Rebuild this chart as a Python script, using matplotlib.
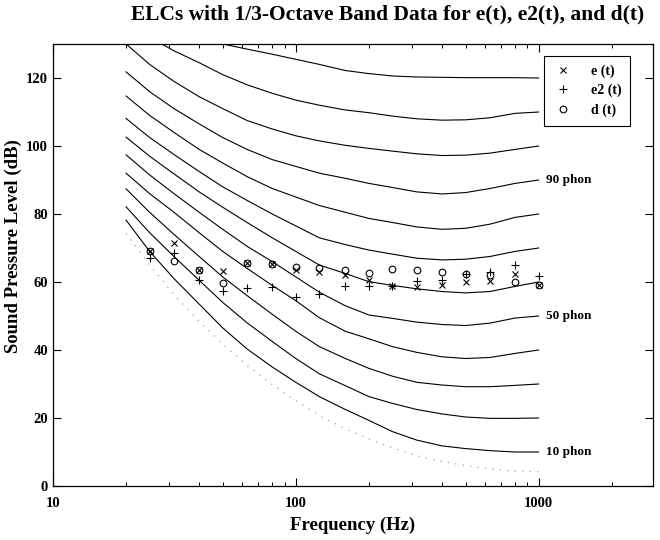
import matplotlib
matplotlib.use('Agg')
import matplotlib.pyplot as plt

# ============================================================
# Data
# ============================================================
freqs = [20, 25, 31.5, 40, 50, 63, 80, 100, 125, 160, 200, 250, 315, 400, 500, 630, 800, 1000]

# equal loudness contours, dB SPL at each 1/3-octave frequency
phon_10 = [78.2, 69.0, 61.0, 53.5, 46.5, 40.3, 35.0, 30.5, 26.3, 22.5, 19.3, 16.0, 13.5, 11.8, 11.0, 10.4, 10.0, 10.0]
phon_20 = [82.1, 74.5, 67.5, 60.5, 54.0, 48.0, 42.5, 37.5, 33.0, 29.5, 26.3, 24.3, 22.5, 21.2, 20.3, 19.9, 19.9, 20.0]
phon_30 = [87.4, 80.5, 74.0, 67.5, 61.5, 56.0, 50.5, 45.5, 41.0, 37.5, 34.6, 32.3, 30.5, 29.7, 29.2, 29.2, 29.6, 30.0]
phon_40 = [92.0, 86.0, 80.5, 74.5, 69.0, 64.0, 59.0, 54.5, 49.5, 45.5, 43.3, 41.0, 39.3, 38.0, 37.5, 37.8, 39.0, 40.0]
phon_50 = [97.4, 91.5, 86.0, 80.5, 75.5, 70.5, 66.0, 61.5, 57.0, 53.0, 50.3, 49.3, 48.2, 47.5, 47.2, 47.9, 49.4, 50.0]
phon_60 = [102.6, 97.0, 91.8, 86.5, 82.0, 77.5, 73.0, 69.0, 65.0, 62.5, 60.1, 59.0, 58.0, 57.2, 56.8, 57.2, 58.7, 60.0]
phon_70 = [108.1, 102.5, 97.5, 92.5, 88.0, 84.0, 80.0, 76.5, 73.0, 71.0, 69.4, 68.2, 67.0, 66.5, 66.7, 67.5, 69.0, 70.0]
phon_80 = [114.7, 109.0, 104.0, 99.0, 95.0, 91.0, 87.5, 85.0, 82.5, 80.5, 78.7, 77.5, 76.2, 75.5, 75.8, 77.0, 79.0, 80.0]
phon_90 = [121.8, 116.0, 111.0, 106.5, 102.5, 99.0, 96.0, 94.0, 92.0, 90.5, 89.0, 87.8, 86.5, 85.9, 86.3, 87.5, 89.0, 90.0]
phon_100 = [130.0, 124.0, 119.0, 114.5, 111.0, 107.5, 105.0, 103.0, 101.5, 100.2, 99.3, 98.5, 97.7, 97.2, 97.3, 97.9, 99.0, 100.0]
phon_110 = [136.0, 132.0, 128.0, 124.5, 121.0, 118.0, 115.5, 113.5, 112.0, 110.6, 109.8, 108.8, 108.0, 107.6, 107.7, 108.3, 109.6, 110.0]
phon_120 = [145.0, 141.0, 137.0, 133.0, 130.0, 128.5, 127.0, 125.5, 124.0, 122.2, 121.3, 120.6, 120.3, 120.2, 120.1, 120.1, 120.1, 120.0]

# hearing threshold (dotted)
threshold = [74.3, 65.0, 56.3, 48.4, 41.7, 35.5, 29.8, 25.1, 20.7, 16.8, 13.8, 11.2, 8.9, 7.2, 6.0, 5.0, 4.4, 4.2]

# 1/3-octave band data
band_freqs = [25, 31.5, 40, 50, 63, 80, 100, 125, 160, 200, 250, 315, 400, 500, 630, 800, 1000]
e_t = [69.1, 71.6, 63.5, 63.2, 65.5, 65.2, 63.5, 63.0, 62.0, 60.6, 58.9, 58.4, 59.1, 60.0, 60.3, 62.4, 59.0]
e2_t = [67.0, 68.4, 60.6, 57.4, 58.1, 58.6, 55.5, 56.5, 58.9, 58.7, 58.9, 60.2, 60.7, 62.5, 63.0, 65.0, 61.9]
d_t = [69.1, 66.3, 63.5, 59.8, 65.5, 65.2, 64.5, 64.2, 63.5, 62.7, 63.7, 63.4, 62.9, 62.5, 62.0, 60.1, 59.0]

labelled = {90: phon_90, 50: phon_50, 10: phon_10}
contours = [phon_10, phon_20, phon_30, phon_40, phon_50, phon_60,
            phon_70, phon_80, phon_90, phon_100, phon_110, phon_120]

plt.rcParams['font.family'] = ['Liberation Serif', 'DejaVu Serif']
plt.rcParams['font.weight'] = 'bold'

fig = plt.figure(figsize=(6.6, 5.4), dpi=100)
ax = fig.add_axes([0.0803, 0.1, 0.9086, 0.8185])

for c in contours:
    ax.plot(freqs, c, color='black', lw=0.8)
ax.plot(freqs, threshold, color='#a0a0a0', lw=0.9, linestyle=(0, (1, 5)))

ax.plot(band_freqs, e_t, 'x', color='black', ms=4.8, mew=0.8, label='e (t)')
ax.plot(band_freqs, e2_t, '+', color='black', ms=5.8, mew=0.8, label='e2 (t)')
ax.plot(band_freqs, d_t, 'o', color='black', mfc='none', ms=4.8, mew=0.8, label='d (t)')

for level, c in labelled.items():
    ax.text(1075, c[-1], f'{level} phon', fontsize=9.5, fontweight='bold',
            va='center', ha='left')

ax.set_xscale('log')
ax.set_xlim(10, 2950)
ax.set_ylim(0, 130)
ax.set_xticks([10, 100, 1000])
ax.set_xticklabels(['10', '100', '1000'])
ax.set_yticks([0, 20, 40, 60, 80, 100, 120])
ax.xaxis.set_minor_formatter(plt.NullFormatter())
ax.tick_params(which='both', direction='in', top=True, right=True, labelsize=10.5)
ax.tick_params(which='major', length=6, width=0.8)
ax.tick_params(which='minor', length=3, width=0.7)
ax.tick_params(axis='x', pad=8)
for s in ax.spines.values():
    s.set_linewidth(0.9)

ax.set_xlabel('Frequency (Hz)', fontsize=13.5, fontweight='bold', labelpad=5)
ax.set_ylabel('Sound Pressure Level (dB)', fontsize=13.5, fontweight='bold')
ax.yaxis.set_label_coords(-0.052, 0.543)

leg = ax.legend(loc='upper right', bbox_to_anchor=(0.963, 0.973), fontsize=10,
                frameon=True, fancybox=False, edgecolor='black', framealpha=1,
                handlelength=1.4, handletextpad=1.3, borderpad=0.65, labelspacing=0.4,
                borderaxespad=0)
leg.get_frame().set_linewidth(0.8)

fig.text(0.588, 0.974, 'ELCs with 1/3-Octave Band Data for e(t), e2(t), and d(t)',
         fontsize=15.5, fontweight='bold', ha='center', va='center')

fig.savefig('out.png', dpi=100)
